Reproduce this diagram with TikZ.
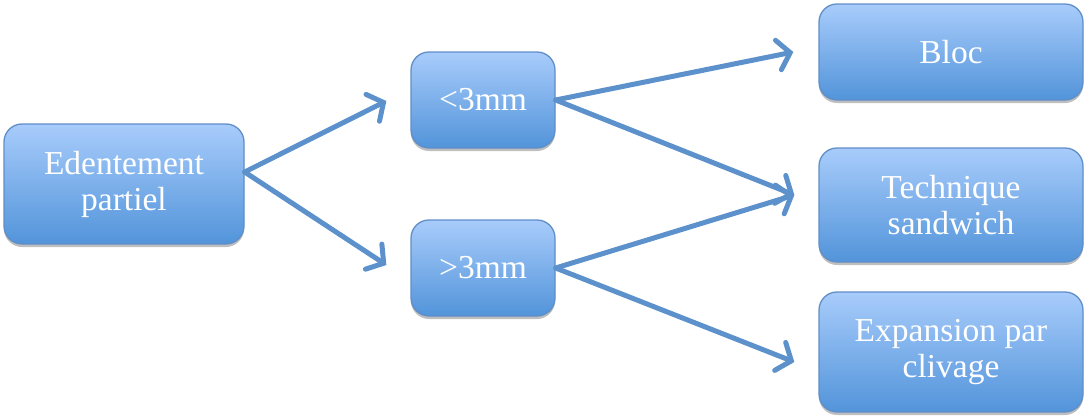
\documentclass[tikz,border=0pt]{standalone}
\usepackage{fontspec}
\setmainfont{Liberation Serif}
\usetikzlibrary{arrows.meta,shadows,calc}
\definecolor{boxtop}{RGB}{168,204,251}
\definecolor{boxbot}{RGB}{82,148,218}
\definecolor{boxline}{RGB}{96,142,200}
\definecolor{arrowc}{RGB}{92,145,204}
\tikzset{
  box/.style={draw=boxline, line width=1.3pt, rounded corners=18pt,
    top color=boxtop, bottom color=boxbot, text=white, align=center,
    font=\fontsize{33.5}{36}\selectfont, inner sep=0pt,
    drop shadow={shadow xshift=0pt, shadow yshift=-3pt, opacity=0.25, fill=black}},
  conn/.style={draw=arrowc, line width=5pt, line cap=round,
    -{Straight Barb[length=12pt,width=30pt,line cap=round]}}
}
\begin{document}
\begin{tikzpicture}[x=1pt,y=-1pt]
\useasboundingbox (0,0) rectangle (1085,416);
\node[box, minimum width=240pt, minimum height=120pt] (ed) at (124,184) {Edentement\\partiel};
\node[box, minimum width=144pt, minimum height=96pt] (lt) at (483,100) {<3mm};
\node[box, minimum width=144pt, minimum height=96pt] (gt) at (483,268) {>3mm};
\node[box, minimum width=264pt, minimum height=96pt] (bloc) at (951,52) {Bloc};
\node[box, minimum width=264pt, minimum height=114pt] (tech) at (951,205) {Technique\\sandwich};
\node[box, minimum width=264pt, minimum height=120pt] (exp) at (951,352) {Expansion par\\clivage};
\coordinate (edout) at ($(ed.east)+(0,-12)$);
\coordinate (ltin) at ($(lt.west)+(-24,1)$);
\coordinate (gtin) at ($(gt.west)+(-24,-3)$);
\coordinate (blocin) at ($(bloc.west)+(-25,0)$);
\coordinate (techin) at ($(tech.west)+(-24,-10)$);
\coordinate (expin) at ($(exp.west)+(-24,10)$);
\draw[conn] (edout) -- (ltin);
\draw[conn] (edout) -- (gtin);
\draw[conn] (lt.east) -- (blocin);
\draw[conn] (lt.east) -- (techin);
\draw[conn] (gt.east) -- (techin);
\draw[conn] (gt.east) -- (expin);
\end{tikzpicture}
\end{document}
